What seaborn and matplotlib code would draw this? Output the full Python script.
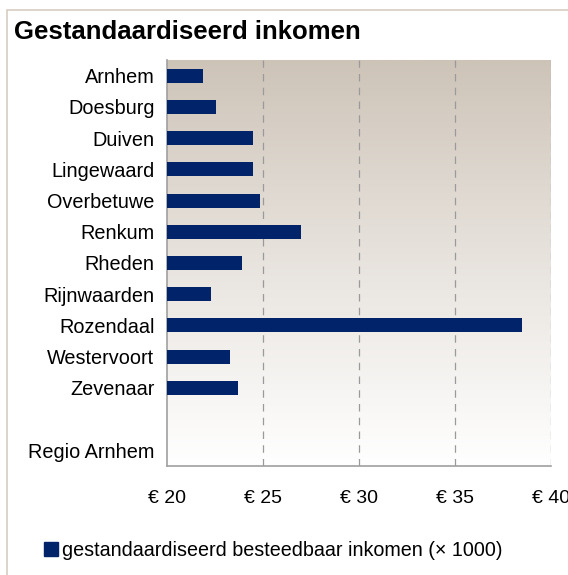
import numpy as np
import pandas as pd
import seaborn as sb
import matplotlib.pyplot as plt
from matplotlib.patches import Rectangle

gemeenten = ['Arnhem', 'Doesburg', 'Duiven', 'Lingewaard', 'Overbetuwe', 'Renkum',
             'Rheden', 'Rijnwaarden', 'Rozendaal', 'Westervoort', 'Zevenaar', ' ',
             'Regio Arnhem']
inkomen = [21.9, 22.55, 24.5, 24.5, 24.85, 27.0, 23.9, 22.3, 38.5, 23.3, 23.7,
           np.nan, np.nan]
x_ticks = [20, 25, 30, 35, 40]
x_labels = ['€ 20', '€ 25', '€ 30', '€ 35', '€ 40']
serie = 'gestandaardiseerd besteedbaar inkomen (× 1000)'

sb.set_style('white')
plt.rcParams['font.family'] = ['Liberation Sans', 'DejaVu Sans']
plt.rcParams['text.color'] = 'black'
plt.rcParams['xtick.color'] = 'black'
plt.rcParams['ytick.color'] = 'black'

t = pd.DataFrame({'gemeente': gemeenten, 'inkomen': inkomen})

f = plt.figure(figsize=(5.68, 5.75), dpi=100)
f.patches.append(Rectangle((7 / 568, -0.1), 1.2, 1 - 10 / 575 + 0.1,
                           transform=f.transFigure, fill=False,
                           edgecolor='#d6cdc2', linewidth=1.2))
ax = f.add_axes([167 / 568, 1 - 466 / 575, 384 / 568, 406 / 575])

# achtergrond met kleurverloop
grad = np.linspace(0, 1, 256).reshape(-1, 1)
top = np.array([205, 195, 183]) / 255
bot = np.array([255, 255, 255]) / 255
img = top + (bot - top) * grad[:, :, None] ** 0.9
ax.imshow(img, extent=[20, 40, len(gemeenten) - 0.5, -0.5], aspect='auto', zorder=0)

sb.barplot(data=t, x='inkomen', y='gemeente', order=gemeenten, orient='h',
           color='#00236a', width=0.45, saturation=1, ax=ax, zorder=3,
           errorbar=None, linewidth=0)

ax.set_xlim(20, 40)
ax.set_ylim(len(gemeenten) - 0.5, -0.5)
ax.set_xticks(x_ticks)
ax.set_xticklabels(x_labels, fontsize=14)
ax.set_yticks(range(len(gemeenten)))
ax.set_yticklabels(gemeenten, fontsize=14.3)
ax.set_yticks(np.arange(-0.5, len(gemeenten)), minor=True)
ax.tick_params(axis='y', which='major', length=0, pad=9)
ax.tick_params(axis='y', which='minor', length=5, color='#a0a0a0', direction='out')
ax.tick_params(axis='x', which='major', length=5, color='#a0a0a0', direction='out',
               pad=12, labelcolor='black')
ax.set_xlabel('')
ax.set_ylabel('')
for x in x_ticks[1:]:
    ax.axvline(x, color='#9a9a9a', linestyle=(0, (6, 5)), linewidth=0.9, zorder=1)
for s in ['top', 'right']:
    ax.spines[s].set_visible(False)
for s in ['left', 'bottom']:
    ax.spines[s].set_color('#a0a0a0')
    ax.spines[s].set_linewidth(1.2)

f.text(14 / 568, 1 - 32 / 575, 'Gestandaardiseerd inkomen', fontsize=18.5,
       fontweight='bold', va='center', ha='left')

f.legend([Rectangle((0, 0), 1, 1, color='#00236a')], [serie], loc='center left',
         bbox_to_anchor=(26 / 568, 1 - 550 / 575), frameon=False, fontsize=14.2,
         handlelength=0.7, handleheight=0.7, handletextpad=0.25)

f.savefig('out.png', dpi=100)
